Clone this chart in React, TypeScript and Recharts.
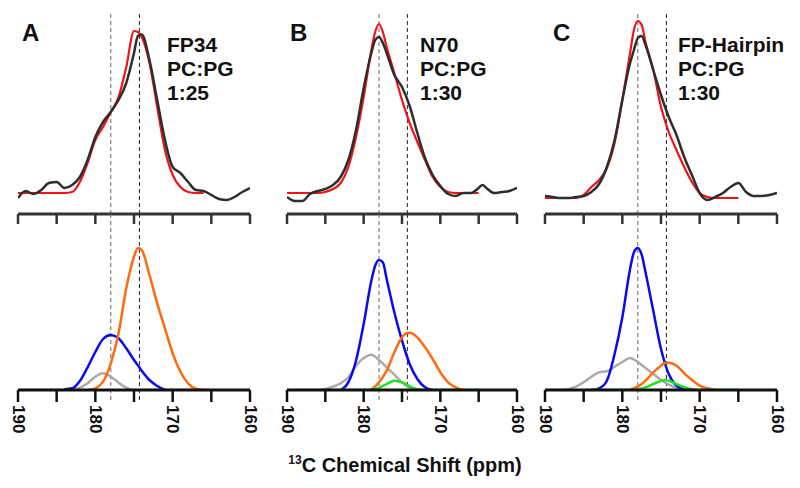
import React from 'react';
import { LineChart, Line, XAxis, YAxis, ReferenceLine } from 'recharts';

// ppm grids (x values)
const topPpmA = [190, 189, 188, 187, 186, 185, 184, 183, 182, 181, 180, 179, 178, 177, 176, 175, 174.5, 174, 173, 172, 171, 170, 169, 168, 167, 166, 165, 164, 163, 162, 161, 160];
const topPpmB = [190, 189, 188, 187, 186, 185, 184, 183, 182, 181, 180, 179, 178.5, 178, 177.5, 177, 176, 175, 174, 173, 172, 171, 170, 169, 168, 167, 166, 165, 164.5, 164, 163, 162, 161, 160];
const topPpmC = [190, 189, 188, 187, 186, 185, 184, 183, 182, 181, 180, 179, 178.5, 178, 177.5, 177, 176, 175, 174, 173, 172, 171, 170, 169, 168, 167, 166, 165, 164, 163, 162, 161, 160];
const botPpmA = topPpmA;
const botPpm = [190, 189, 188, 187, 186, 185, 184, 183, 182, 181, 180, 179, 178.5, 178, 177.5, 177, 176, 175, 174.5, 174, 173, 172, 171, 170, 169, 168, 167, 166, 165, 164, 163, 162, 161, 160];

// top: experimental (black) and simulated (red) spectra
const expA = [16, 23, 20, 24, 31, 32, 26, 29, 37, 54, 77, 92, 102, 114, 131, 161, 178, 179.5, 154, 114, 74, 47, 41, 32, 24, 23, 19, 15, 14, 17, 22, 26];
const simA = [21, 21, 21, 21, 21, 21, 21, 22, 32, 51, 74, 87, 102, 117, 147, 183, 182, 177, 151, 107, 64, 39, 27, 22, 21, 21, null, null, null, null, null, null];
const expB = [17, 13, 13, 20, 23, 25, 29, 37, 54, 84, 126, 161, 174, 177, 171, 161, 139, 127, 108, 81, 56, 39, 28, 20, 18, 21, 21, 26, 29, 26, 21, 22, 23, 26];
const simB = [21, 21, 21, 21, 21, 22, 25, 31, 47, 77, 117, 164, 182, 190, 182, 167, 141, 114, 91, 72, 54, 37, 27, 22, 21, 21, 21, 21, null, null, null, null, null, null];
const expC = [18, 17, 16, 16, 17, 18, 22, 30, 47, 74, 114, 151, 164, 176, 178, 169, 144, 119, 97, 79, 57, 39, 21, 14, 17, 21, 27, 31, 22, 18, 18, 19, 21];
const simC = [16, 16, 16, 16, 16, 19, 27, 34, 46, 71, 114, 161, 184, 193, 189, 172, 144, 107, 82, 64, 47, 32, 21, 17, 16, 16, 16, 16, null, null, null, null, null];

// bottom: fitted components
const blueA = [null, null, null, null, null, null, 0.7, 1.7, 9, 22.7, 38, 51, 55, 51.7, 41.7, 30, 24.7, 19.3, 10, 4, 0, null, null, null, null, null, null, null, null, null, null, null];
const orangeA = [null, null, null, null, null, null, null, null, null, 0, 1.7, 8.3, 26.7, 56.7, 101.7, 133.3, 142, 140, 115, 86.7, 61.7, 36.7, 18.3, 6.7, 1.3, 0, null, null, null, null, null, null];
const grayA = [0, 0, 0, 0, 0, 0, 0, 0.7, 2.3, 6.7, 13.3, 16.7, 13.3, 7.3, 2.3, 0, 0, 0, 0, 0, 0, 0, 0, 0, 0, 0, 0, null, null, null, null, null];

const blueB = [null, null, null, null, null, null, null, 0, 7.7, 29.3, 66, 109.3, 124.3, 130, 127.7, 111, 77.7, 49.3, 37, 26, 11, 2.7, 0, null, null, null, null, null, null, null, null, null, null, null];
const orangeB = [null, null, null, null, null, null, null, null, null, null, null, 0.7, 3.5, 7.7, 13, 19.3, 37.7, 52.7, 56.5, 57.3, 52.7, 42.7, 31, 17.7, 7.7, 2.7, 0, null, null, null, null, null, null, null];
const grayB = [0, 0, 0, 0, 0, 1, 3.3, 6.7, 12.7, 24.3, 32, 35.3, 33.5, 30, 26.5, 22.7, 15.3, 7.7, 4.5, 2, 0, null, null, null, null, null, null, null, null, null, null, null, null, null];
const greenB = [null, null, null, null, null, 0, 0, 0, 0, 0, 0, 0, 0.8, 2, 4, 6, 9.3, 7.7, 6, 3.7, 0.7, 0, 0, 0, 0, 0, 0, 0, 0, null, null, null, null, null];

const blueC = [null, null, null, null, null, null, 0, 1.7, 9.3, 36, 72.7, 121, 137.7, 142, 135.3, 117.7, 79.3, 41, 27, 16, 4.3, 0.7, 0, null, null, null, null, null, null, null, null, null, null, null];
const orangeC = [null, null, null, null, null, null, null, null, null, null, null, 0.7, 1.8, 3.3, 6, 9.3, 17.7, 24.3, 27, 27.3, 24.3, 16.7, 10, 4.3, 1.7, 0, null, null, null, null, null, null, null, null];
const grayC = [0, 0, 0, 0.7, 3.3, 7.7, 13.3, 17.7, 18.7, 23.3, 28, 32, 30.5, 28, 25, 22, 16, 10, 7.5, 5.3, 2.3, 0.3, 0, null, null, null, null, null, null, null, null, null, null, null];
const greenC = [null, null, null, null, null, 0, 0, 0, 0, 0, 0, 0, 0.3, 0.7, 1.5, 2.7, 6, 9, 10, 9.3, 6, 2.7, 0.7, 0, 0, 0, 0, 0, 0, null, null, null, null, null];

const xTicks = [190, 185, 180, 175, 170, 165, 160];
const refLines = [178, 174.3];
const panelLabels = ['A', 'B', 'C'];
const sampleNames = [['FP34', 'PC:PG', '1:25'], ['N70', 'PC:PG', '1:30'], ['FP-Hairpin', 'PC:PG', '1:30']];

const FONT = '"Liberation Sans", Arial, Helvetica, sans-serif';
const W = 270;

const panels = [
  { left: 0, ml: 18, mr: 20, textX: 167, letterX: 22,
    top: topPpmA.map((p, i) => ({ ppm: p, exp: expA[i], sim: simA[i] })),
    bottom: botPpmA.map((p, i) => ({ ppm: p, gray: grayA[i], blue: blueA[i], orange: orangeA[i], green: null })) },
  { left: 270, ml: 17, mr: 23, textX: 420, letterX: 290,
    top: topPpmB.map((p, i) => ({ ppm: p, exp: expB[i], sim: simB[i] })),
    bottom: botPpm.map((p, i) => ({ ppm: p, gray: grayB[i], blue: blueB[i], orange: orangeB[i], green: greenB[i] })) },
  { left: 528, ml: 17, mr: 21, textX: 678, letterX: 553,
    top: topPpmC.map((p, i) => ({ ppm: p, exp: expC[i], sim: simC[i] })),
    bottom: botPpm.map((p, i) => ({ ppm: p, gray: grayC[i], blue: blueC[i], orange: orangeC[i], green: greenC[i] })) },
];

const EmptyTick = () => <g />;

const RotTick = (props: any) => {
  const { x, y, payload } = props;
  if (payload.value % 10 !== 0) return <g />;
  return (
    <text x={x} y={y} transform={`rotate(90, ${x}, ${y})`} textAnchor="start" dominantBaseline="central"
      fontFamily={FONT} fontWeight="bold" fontSize={17} fill="#111">
      {payload.value}
    </text>
  );
};

function Panel({ p }: { p: any }) {
  return (
    <>
      <div style={{ position: 'absolute', left: p.left, top: 0 }}>
        <LineChart width={W} height={230} data={p.top} margin={{ top: 13, right: p.mr, bottom: 0, left: p.ml }}>
          <XAxis dataKey="ppm" type="number" domain={[160, 190]} reversed ticks={xTicks} tick={<EmptyTick />}
            interval={0} height={16} tickSize={10} axisLine={{ stroke: '#333', strokeWidth: 3 }}
            tickLine={{ stroke: '#333', strokeWidth: 2.5 }} allowDataOverflow />
          <YAxis hide type="number" domain={[0, 201]} allowDataOverflow />
          {refLines.map((r, i) => (
            <ReferenceLine key={r} x={r} stroke={i === 0 ? '#666' : '#222'} strokeDasharray="4 3" strokeWidth={1} />
          ))}
          <Line type="monotone" dataKey="sim" stroke="#f01414" strokeWidth={2.2} dot={false} isAnimationActive={false} />
          <Line type="monotone" dataKey="exp" stroke="#2e2e2e" strokeWidth={2.5} dot={false} isAnimationActive={false} />
        </LineChart>
      </div>
      <div style={{ position: 'absolute', left: p.left, top: 214 }}>
        <LineChart width={W} height={226} data={p.bottom} margin={{ top: 0, right: p.mr, bottom: 0, left: p.ml }}>
          <XAxis dataKey="ppm" type="number" domain={[160, 190]} reversed ticks={xTicks} tick={<RotTick />}
            height={50} tickSize={12} tickMargin={3} interval={0} axisLine={{ stroke: '#111', strokeWidth: 3 }}
            tickLine={{ stroke: '#111', strokeWidth: 2.5 }} allowDataOverflow />
          <YAxis hide type="number" domain={[0, 176]} allowDataOverflow />
          {refLines.map((r, i) => (
            <ReferenceLine key={r} segment={[{ x: r, y: -10 }, { x: r, y: 176 }]} ifOverflow="visible"
              stroke={i === 0 ? '#666' : '#222'} strokeDasharray="4 3" strokeWidth={1} />
          ))}
          <Line type="monotone" dataKey="gray" stroke="#aaaaaa" strokeWidth={2.5} dot={false} isAnimationActive={false} />
          <Line type="monotone" dataKey="blue" stroke="#0a0af0" strokeWidth={2.5} dot={false} isAnimationActive={false} />
          <Line type="monotone" dataKey="orange" stroke="#ff6a10" strokeWidth={2.5} dot={false} isAnimationActive={false} />
          <Line type="monotone" dataKey="green" stroke="#22e022" strokeWidth={2.5} dot={false} isAnimationActive={false} />
        </LineChart>
      </div>
    </>
  );
}

export default function App() {
  return (
    <div style={{ position: 'absolute', left: 0, top: 0, width: 800, height: 488, background: '#fff', overflow: 'hidden' }}>
      {panels.map((p, i) => <Panel key={i} p={p} />)}
      <svg width={800} height={488} style={{ position: 'absolute', left: 0, top: 0, pointerEvents: 'none' }}>
        {panels.map((p, i) => (
          <g key={i} fontFamily={FONT} fontWeight="bold" fill="#111">
            <text x={p.letterX} y={41} fontSize={24}>{panelLabels[i]}</text>
            {sampleNames[i].map((s, j) => (
              <text key={j} x={p.textX} y={52 + j * 24} fontSize={21}>{s}</text>
            ))}
          </g>
        ))}
        <text x={405} y={472} textAnchor="middle" fontFamily={FONT} fontWeight="bold" fontSize={20} fill="#111">
          <tspan fontSize={12} dy={-8}>13</tspan>
          <tspan dy={8}>C Chemical Shift (ppm)</tspan>
        </text>
      </svg>
    </div>
  );
}
